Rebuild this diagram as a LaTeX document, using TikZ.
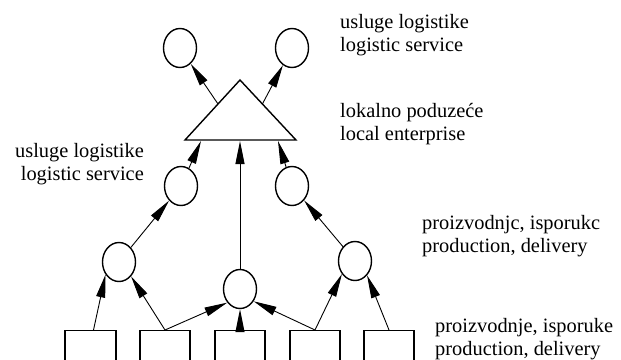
\documentclass[tikz,border=0pt]{standalone}
\usepackage{fontspec}
\setmainfont{Liberation Serif}
\usetikzlibrary{shapes.geometric,arrows.meta,calc}

\tikzset{
  oval/.style={draw,ellipse,line width=1.4pt,minimum width=33pt,minimum height=39pt,inner sep=0pt},
  unit/.style={draw,rectangle,line width=1.3pt,minimum width=50pt,minimum height=42pt,inner sep=0pt,anchor=north},
  headtip/.tip={Triangle[length=23pt,width=9pt]},
  arr/.style={line width=0.9pt,arrows={-headtip}},
  lbl/.style={font=\fontsize{20.4}{23}\selectfont,inner sep=0pt}
}

\begin{document}
\begin{tikzpicture}[x=1pt,y=-1pt]
\useasboundingbox (0,0) rectangle (621,359);
\clip (0,0) rectangle (621,359);

% service units above the enterprise
\node[oval] (e1) at (180,48) {};
\node[oval] (e2) at (292,48) {};

% local enterprise (triangle)
\coordinate (ta) at (240,80);
\coordinate (tl) at (185,140);
\coordinate (tr) at (296,140);
\draw[line width=1.4pt,line join=miter] (ta) -- (tl) -- (tr) -- cycle;
\coordinate (ts1) at ($(tl)!0.6!(ta)$);
\coordinate (ts2) at ($(tr)!0.6!(ta)$);
\coordinate (tb1) at (201,141);
\coordinate (tb0) at (240,141);
\coordinate (tb2) at (278,141);

% logistic service units
\node[oval] (m1) at (181,186) {};
\node[oval] (m2) at (292,186) {};

% production / delivery units
\node[oval] (l1) at (119,262) {};
\node[oval] (l2) at (355,261) {};
\node[oval] (c)  at (240,289) {};

% producers
\node[unit,minimum width=51pt] (b1) at (90.5,330) {};
\node[unit] (b2) at (165,330) {};
\node[unit] (b3) at (240,330) {};
\node[unit] (b4) at (315,330) {};
\node[unit] (b5) at (389,330) {};

% connectors
\draw[arr] (ts1) -- (e1);
\draw[arr] (ts2) -- (e2);
\draw[arr] (m1) -- (tb1);
\draw[arr] (c) -- (tb0);
\draw[arr] (m2) -- (tb2);
\draw[arr] (l1) -- (m1);
\draw[arr] (l2) -- (m2);
\draw[arr] ([xshift=3pt]b1.north) -- (l1.223);
\draw[arr] (b2.north) -- (l1.310);
\draw[arr] (b2.north) -- (c.227);
\draw[arr] (b3.north) -- (c.south);
\draw[arr] (b4.north) -- (c.318);
\draw[arr] (b4.north) -- (l2.225);
\draw[arr] (b5.north) -- (l2.310);

% labels (anchored at the baseline of their last line)
\node[lbl,align=left,anchor=base west] (n1) at (340,51) {usluge logistike\\logistic service};
\node[lbl,align=left,anchor=base west] (n2) at (340,140) {lokalno poduzeće\\local enterprise};
\node[lbl,align=right,anchor=base east] (n3) at (144,180) {usluge logistike\\logistic service};
\node[lbl,align=left,anchor=base west] (n4) at (422,252) {proizvodnjc, isporukc\\production, delivery};
\node[lbl,align=left,anchor=base west] (n5) at (435,355) {proizvodnje, isporuke\\production, delivery};
\end{tikzpicture}
\end{document}
